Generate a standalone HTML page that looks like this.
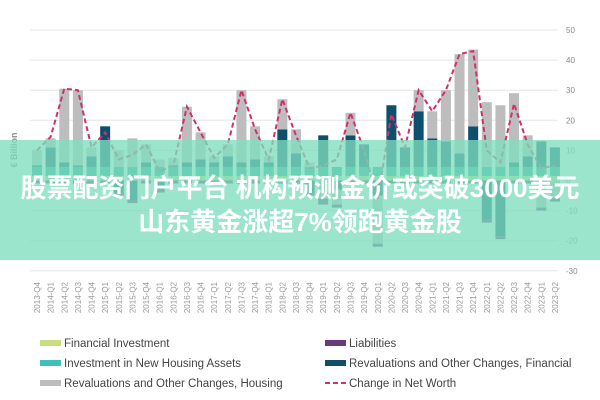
<!DOCTYPE html>
<html><head><meta charset="utf-8">
<style>
body{margin:0;background:#fff;width:600px;height:400px;overflow:hidden;position:relative;font-family:"Liberation Sans","Noto Sans CJK SC",sans-serif}
#banner{position:absolute;left:0;top:140px;width:600px;height:120px;background:rgba(125,222,190,0.78)}
.bt{position:absolute;left:0;width:600px;text-align:center;color:#fff;font-weight:bold;font-size:26px;font-family:"Liberation Sans","Noto Sans CJK SC",sans-serif;white-space:nowrap}
</style></head><body>
<svg id="chart" width="600" height="400" style="position:absolute;left:0;top:0"></svg>
<div id="banner">
<div class="bt" style="top:28px">股票配资门户平台 机构预测金价或突破3000美元</div>
<div class="bt" style="top:62px">山东黄金涨超7%领跑黄金股</div>
</div>
<script>
const quarters=["2013-Q4","2014-Q1","2014-Q2","2014-Q3","2014-Q4","2015-Q1","2015-Q2","2015-Q3","2015-Q4","2016-Q1","2016-Q2","2016-Q3","2016-Q4","2017-Q1","2017-Q2","2017-Q3","2017-Q4","2018-Q1","2018-Q2","2018-Q3","2018-Q4","2019-Q1","2019-Q2","2019-Q3","2019-Q4","2020-Q1","2020-Q2","2020-Q3","2020-Q4","2021-Q1","2021-Q2","2021-Q3","2021-Q4","2022-Q1","2022-Q2","2022-Q3","2022-Q4","2023-Q1","2023-Q2"];
const finInv=[1.5,1.5,1.5,1.5,1.5,1.5,1.5,1.5,1.5,1.5,1.5,1.5,1.5,1.5,1.5,1.5,1.5,1.5,1.5,1.5,1.5,1.5,1.5,1.5,1.5,1.5,1.5,1.5,1.5,1.5,1.5,1.5,1.5,1.5,1.5,1.5,1.5,1.5,1.5];
const houseInv=[3,3,3,3,3,3,3,3,3,3,3,3,3,3,3,3,3,3,3,3,3,3,3,3,3,3,3,3,3,3,3,3,3,3,3,3,3,3,3];
const revalFin=[0.5,6.5,1.5,0.5,3.5,13.5,-4,-6.5,1.5,-3,0.5,1.5,2.5,1.5,3.5,1.5,2.5,1.5,12.5,4.5,-4,10.5,-3,10.5,7.5,-5,20.5,6.5,18.5,9.5,8.5,4.5,13.5,-13,-18.5,1.5,3.5,8.5,6.5];
const revalHouse=[5,3,24.5,25,3,0,5.5,9.5,6,2.5,2.5,18.5,9,2,4,24,11,2,10,8,1.5,-6,-5,7.5,0,-16,0,0,7,9,17,33,25.5,21.5,20.5,23,7,-9,-6];
const liab=[-1,-1,-1,-1,-1,-1,-1,-1,-1,-1,-1,-1,-1,-1,-1,-1,-1,-1,-1,-1,-1,-2,-1,-1,-1,-1,-1,-1,-1,-1,-1,-1,-1,-1,-1,-1,-1,-1,-1];
const netWorth=[10,14.5,30.5,30,11,16,7,8.5,12,3,5,24.5,16,7.5,12,30,17,7,27,15,4,5,7,22.5,10,-6,22,11,30,23,30,42,43,10,6,25.5,12,4,5];
const yTicks=[50,40,30,20,10,0,-10,-20,-30];
const svg=document.getElementById('chart');const NS='http://www.w3.org/2000/svg';
function el(t,a,p){const e=document.createElementNS(NS,t);for(const k in a)e.setAttribute(k,a[k]);(p||svg).appendChild(e);return e;}
const x=i=>37+i*13.63;const y=v=>180.5-v*3.01;
yTicks.forEach(t=>{const g=el('line',{x1:30,x2:558,y1:y(t),y2:y(t),stroke:'#e6e6e6','stroke-width':1});

const tx=el('text',{x:566,y:y(t)+3,'font-size':8,fill:'#888','font-family':'Liberation Sans'});tx.textContent=t;
});
const yt=el('text',{transform:'translate(17,150) rotate(-90)','text-anchor':'middle','font-size':9,fill:'#888','font-family':'Liberation Sans','font-weight':'bold'});yt.textContent='€ Billion';

const series=[[finInv,'#c8de80','bar-financial-investment'],[houseInv,'#2aa39c','bar-housing-investment'],[revalFin,'#0e4f6b','bar-revaluations-financial'],[revalHouse,'#bdbdbd','bar-revaluations-housing'],[liab,'#6b3a7a','bar-liabilities']];
quarters.forEach((q,i)=>{let pos=0,neg=0;
series.forEach(([arr,c,n])=>{const v=arr[i];if(!v)return;let y0,y1;
if(v>0){y0=pos;y1=pos+v;pos=y1;}else{y0=neg;y1=neg+v;neg=y1;}
const r=el('rect',{x:x(i)-5,width:10,y:Math.min(y(y0),y(y1)),height:Math.abs(y(y0)-y(y1)),fill:c});
});
const t=el('text',{transform:`translate(${x(i)+3},282) rotate(-90)`,'text-anchor':'end','font-size':8,fill:'#999','font-family':'Liberation Sans'});t.textContent=q;
});
const pl=el('polyline',{points:netWorth.map((v,i)=>x(i)+','+y(v)).join(' '),fill:'none',stroke:'#d12f6e','stroke-width':2,'stroke-dasharray':'5,3'});

const leg=[[40,343,'#c8de80','Financial Investment'],[40,363,'#40c0bc','Investment in New Housing Assets'],[40,383,'#bdbdbd','Revaluations and Other Changes, Housing'],[325,343,'#6b3a7a','Liabilities'],[325,363,'#0e4f6b','Revaluations and Other Changes, Financial']];
leg.forEach(([lx,ly,c,txt])=>{const r=el('rect',{x:lx,y:ly-3,width:21,height:6,fill:c});

const t=el('text',{x:lx+24,y:ly+4,'font-size':11.5,fill:'#444','font-family':'Liberation Sans'});t.textContent=txt;
});
const ll=el('line',{x1:325,x2:346,y1:383,y2:383,stroke:'#d12f6e','stroke-width':2,'stroke-dasharray':'5,3'});

const lt=el('text',{x:349,y:387,'font-size':11.5,fill:'#444','font-family':'Liberation Sans'});lt.textContent='Change in Net Worth';

</script>
</body></html>
